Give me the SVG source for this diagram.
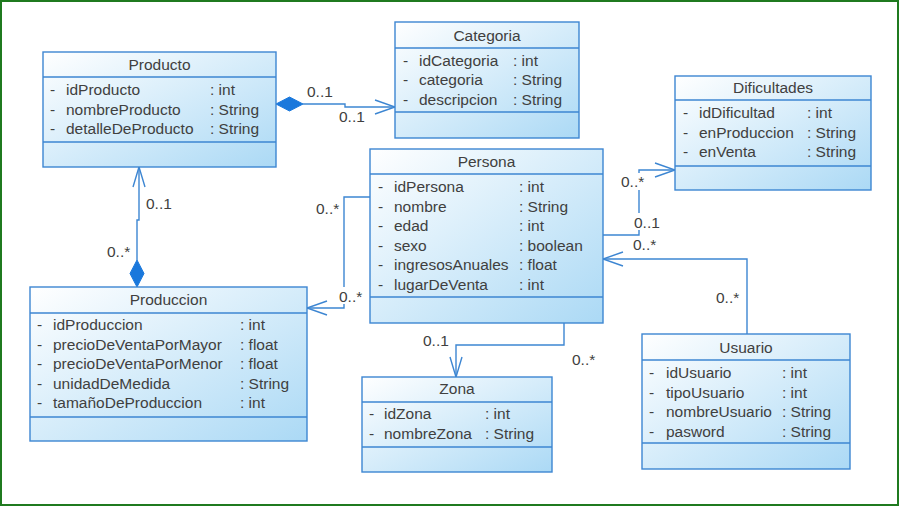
<svg xmlns="http://www.w3.org/2000/svg" width="899" height="506" viewBox="0 0 899 506">
<defs>
<linearGradient id="g" x1="0" y1="0" x2="1" y2="1">
<stop offset="0" stop-color="#ffffff"/>
<stop offset="1" stop-color="#abd9f5"/>
</linearGradient>
<style>
.box{fill:url(#g);stroke:#3d86d2;stroke-width:1.4}
.div{stroke:#3d86d2;stroke-width:1.4}
text{font-family:"Liberation Sans",Arial,sans-serif;font-size:15.5px;fill:#404040}
.t{text-anchor:middle}
.ln{fill:none;stroke:#3d86d2;stroke-width:1.4}
.dia{fill:#1a78dc;stroke:#1a78dc;stroke-width:1}
.bg{fill:#ffffff}
</style>
</defs>
<rect x="1" y="1" width="897" height="504" fill="#ffffff" stroke="#1f7a1f" stroke-width="2"/>

<g id="connectors">
<!-- Producto - Categoria -->
<path class="ln" d="M303,104 H345 V107 H395"/>
<path class="ln" d="M375,100 L395,107 L375,114"/>
<polygon class="dia" points="276,104 289.5,97 303,104 289.5,111"/>
<!-- Producto - Produccion -->
<path class="ln" d="M139,167 V220 H137 V260"/>
<path class="ln" d="M133,187 L139,167 L145,187"/>
<polygon class="dia" points="137,260 144,273.5 137,287 130,273.5"/>
<!-- Persona - Produccion -->
<path class="ln" d="M370,197 H344 V308 H307"/>
<path class="ln" d="M327,301 L307,308 L327,315"/>
<!-- Persona - Dificultades -->
<path class="ln" d="M603,235 H639 V170 H675"/>
<path class="ln" d="M655,163 L675,170 L655,177"/>
<!-- Usuario - Persona -->
<path class="ln" d="M747,334 V259 H603"/>
<path class="ln" d="M623,252 L603,259 L623,266"/>
<!-- Persona - Zona -->
<path class="ln" d="M564,323 V345 H456 V377"/>
<path class="ln" d="M450,357 L456,377 L462,357"/>
<!-- labels -->
<text x="307" y="97">0..1</text>
<text x="339" y="122">0..1</text>
<text x="146" y="209">0..1</text>
<text x="107" y="257">0..*</text>
<text x="316" y="214">0..*</text>
<rect class="bg" x="337" y="287" width="27" height="17"/>
<text x="339" y="302">0..*</text>
<rect class="bg" x="619" y="173" width="28" height="17"/>
<text x="621" y="187">0..*</text>
<rect class="bg" x="632" y="213" width="29" height="17"/>
<text x="634" y="228">0..1</text>
<text x="633" y="250">0..*</text>
<text x="716" y="303">0..*</text>
<text x="423" y="346">0..1</text>
<text x="572" y="365">0..*</text>
</g>

<g id="Producto">
<rect class="box" x="43" y="52" width="233" height="115"/>
<line class="div" x1="43" y1="77" x2="276" y2="77"/>
<line class="div" x1="43" y1="142" x2="276" y2="142"/>
<text class="t" x="159.5" y="70">Producto</text>
<text x="50" y="95">-</text><text x="66" y="95">idProducto</text><text x="210" y="95">: int</text>
<text x="50" y="114.5">-</text><text x="66" y="114.5">nombreProducto</text><text x="210" y="114.5">: String</text>
<text x="50" y="134">-</text><text x="66" y="134">detalleDeProducto</text><text x="210" y="134">: String</text>
</g>

<g id="Categoria">
<rect class="box" x="395" y="22" width="184" height="116"/>
<line class="div" x1="395" y1="48" x2="579" y2="48"/>
<line class="div" x1="395" y1="112" x2="579" y2="112"/>
<text class="t" x="487" y="41">Categoria</text>
<text x="403" y="66">-</text><text x="419" y="66">idCategoria</text><text x="513" y="66">: int</text>
<text x="403" y="85">-</text><text x="419" y="85">categoria</text><text x="513" y="85">: String</text>
<text x="403" y="104.5">-</text><text x="419" y="104.5">descripcion</text><text x="513" y="104.5">: String</text>
</g>

<g id="Dificultades">
<rect class="box" x="675" y="76" width="196" height="114"/>
<line class="div" x1="675" y1="100" x2="871" y2="100"/>
<line class="div" x1="675" y1="166" x2="871" y2="166"/>
<text class="t" x="773" y="93">Dificultades</text>
<text x="683" y="118">-</text><text x="699" y="118">idDificultad</text><text x="807" y="118">: int</text>
<text x="683" y="137.5">-</text><text x="699" y="137.5">enProduccion</text><text x="807" y="137.5">: String</text>
<text x="683" y="157">-</text><text x="699" y="157">enVenta</text><text x="807" y="157">: String</text>
</g>

<g id="Persona">
<rect class="box" x="370" y="149" width="233" height="174"/>
<line class="div" x1="370" y1="174" x2="603" y2="174"/>
<line class="div" x1="370" y1="297" x2="603" y2="297"/>
<text class="t" x="486.5" y="167">Persona</text>
<text x="378" y="192">-</text><text x="394" y="192">idPersona</text><text x="519" y="192">: int</text>
<text x="378" y="211.5">-</text><text x="394" y="211.5">nombre</text><text x="519" y="211.5">: String</text>
<text x="378" y="231">-</text><text x="394" y="231">edad</text><text x="519" y="231">: int</text>
<text x="378" y="250.5">-</text><text x="394" y="250.5">sexo</text><text x="519" y="250.5">: boolean</text>
<text x="378" y="270">-</text><text x="394" y="270">ingresosAnuales</text><text x="519" y="270">: float</text>
<text x="378" y="289.5">-</text><text x="394" y="289.5">lugarDeVenta</text><text x="519" y="289.5">: int</text>
</g>

<g id="Produccion">
<rect class="box" x="30" y="287" width="277" height="154"/>
<line class="div" x1="30" y1="313" x2="307" y2="313"/>
<line class="div" x1="30" y1="417" x2="307" y2="417"/>
<text class="t" x="168.5" y="305">Produccion</text>
<text x="37" y="330">-</text><text x="53" y="330">idProduccion</text><text x="240" y="330">: int</text>
<text x="37" y="349.5">-</text><text x="53" y="349.5">precioDeVentaPorMayor</text><text x="240" y="349.5">: float</text>
<text x="37" y="369">-</text><text x="53" y="369">precioDeVentaPorMenor</text><text x="240" y="369">: float</text>
<text x="37" y="388.5">-</text><text x="53" y="388.5">unidadDeMedida</text><text x="240" y="388.5">: String</text>
<text x="37" y="408">-</text><text x="53" y="408">tamañoDeProduccion</text><text x="240" y="408">: int</text>
</g>

<g id="Zona">
<rect class="box" x="362" y="377" width="190" height="95"/>
<line class="div" x1="362" y1="402" x2="552" y2="402"/>
<line class="div" x1="362" y1="447" x2="552" y2="447"/>
<text class="t" x="457" y="394">Zona</text>
<text x="369" y="419">-</text><text x="384" y="419">idZona</text><text x="485" y="419">: int</text>
<text x="369" y="438.5">-</text><text x="384" y="438.5">nombreZona</text><text x="485" y="438.5">: String</text>
</g>

<g id="Usuario">
<rect class="box" x="642" y="334" width="208" height="135"/>
<line class="div" x1="642" y1="360" x2="850" y2="360"/>
<line class="div" x1="642" y1="443" x2="850" y2="443"/>
<text class="t" x="746" y="353">Usuario</text>
<text x="649" y="378">-</text><text x="666" y="378">idUsuario</text><text x="782" y="378">: int</text>
<text x="649" y="397.5">-</text><text x="666" y="397.5">tipoUsuario</text><text x="782" y="397.5">: int</text>
<text x="649" y="417">-</text><text x="666" y="417">nombreUsuario</text><text x="782" y="417">: String</text>
<text x="649" y="436.5">-</text><text x="666" y="436.5">pasword</text><text x="782" y="436.5">: String</text>
</g>
</svg>
